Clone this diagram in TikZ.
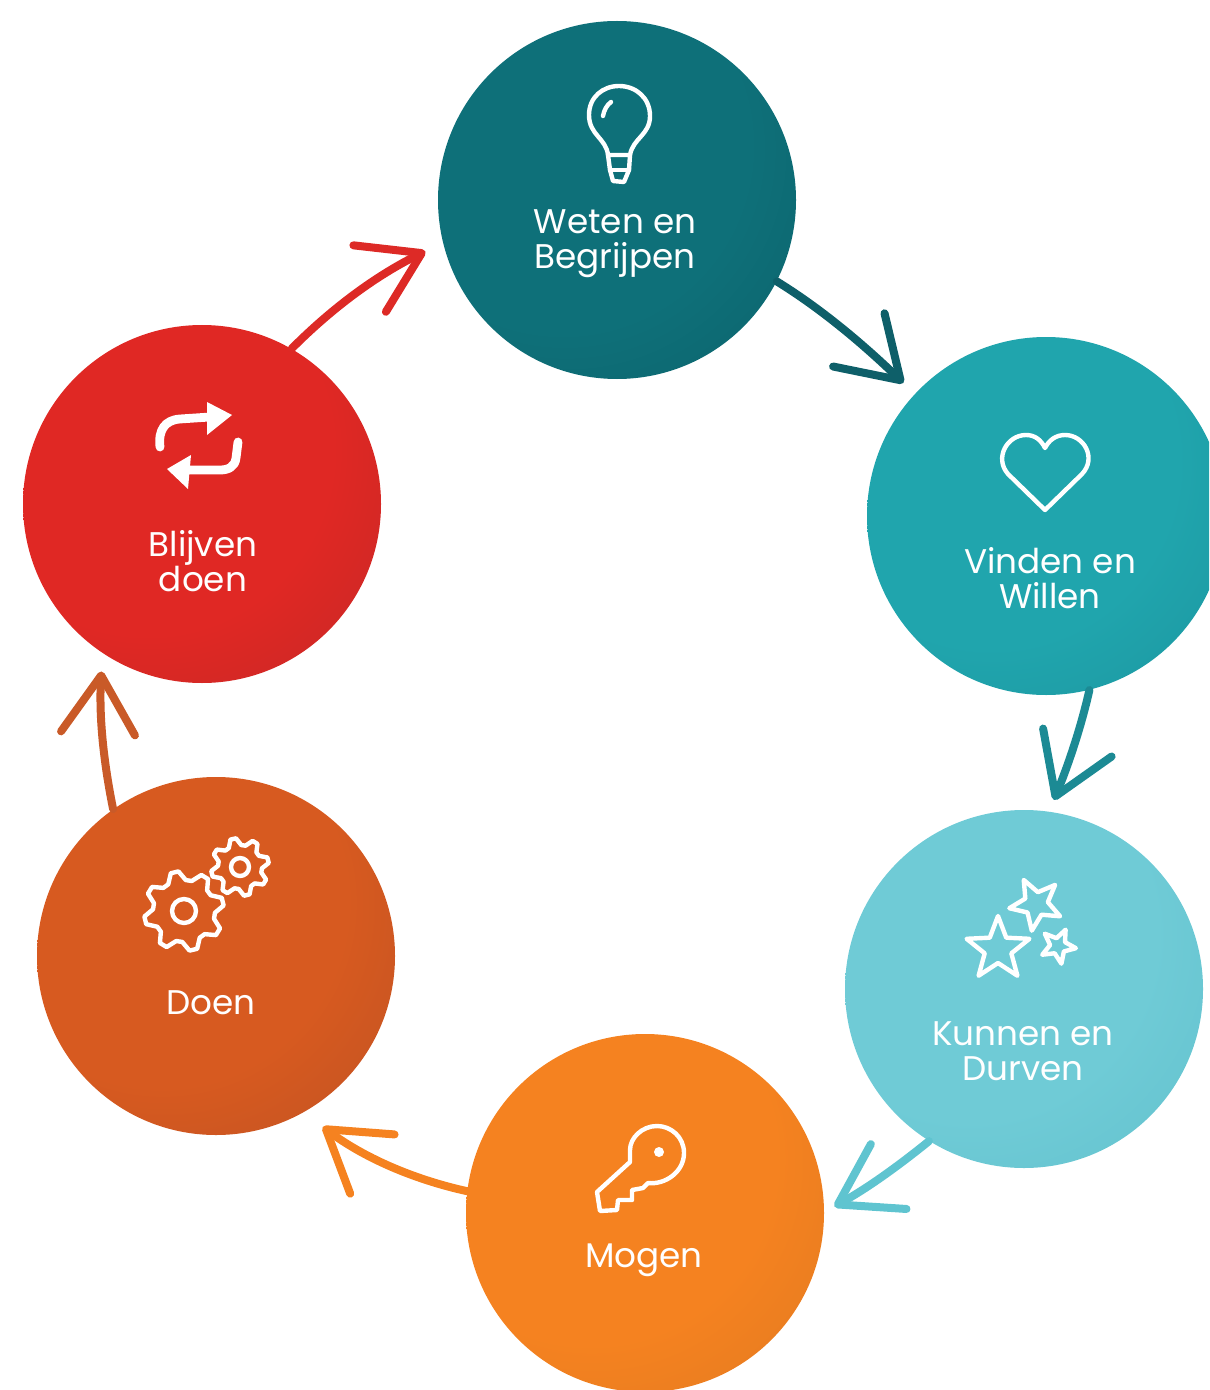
\documentclass[tikz,border=0pt]{standalone}
\usepackage{fontspec}
\setmainfont{Poppins}
\usetikzlibrary{arrows.meta,calc}
\pgfdeclareradialshading[ballA,ballB]{ballshade}{\pgfpoint{-12bp}{12bp}}{%
  color(0bp)=(ballA);color(26bp)=(ballA);color(44bp)=(ballB!50!ballA);color(62bp)=(ballB);color(72bp)=(ballB)}
\tikzset{
  ball/.style n args={2}{circle,inner sep=0pt,minimum size=179pt,
    /utils/exec={\colorlet{ballA}{#1}\colorlet{ballB}{#2}},shade,shading=ballshade},
  lab/.style={text=white,align=center,font=\fontsize{17.1}{17.5}\selectfont,inner sep=0pt},
  icon/.style={draw=white,line width=2.2pt,line join=round,line cap=round},
  flow/.style={line width=4pt,line cap=round,-{Straight Barb[length=29pt,width=37pt,line width=4pt,round,quick]},draw=#1}
}
\definecolor{cA}{HTML}{0E7079}\definecolor{dA}{HTML}{0A545D}
\definecolor{cB}{HTML}{20A5AD}\definecolor{dB}{HTML}{188592}
\definecolor{cC}{HTML}{6FCBD6}\definecolor{dC}{HTML}{54B6C4}
\definecolor{cD}{HTML}{F58220}\definecolor{dD}{HTML}{CC711F}
\definecolor{cE}{HTML}{D75A20}\definecolor{dE}{HTML}{A64924}
\definecolor{cF}{HTML}{E02824}\definecolor{dF}{HTML}{A82A27}
\definecolor{aA}{HTML}{0E5F69}\definecolor{aB}{HTML}{1C8A94}\definecolor{aC}{HTML}{5FC4D0}
\definecolor{aD}{HTML}{F58220}\definecolor{aE}{HTML}{C95A28}\definecolor{aF}{HTML}{DD2A26}
\pgfmathdeclarefunction{gearr}{3}{\pgfmathparse{mod(#1,4)<2?#2:#3}}
\pgfmathdeclarefunction{starr}{3}{\pgfmathparse{mod(#1,2)<1?#2:#3}}
\newcommand{\geardraw}[6]{%
  \draw[icon] plot[samples at={0,...,31},variable=\i]
    ({#1+gearr(\i,#3,#4)*cos(#5+\i*11.25)},{#2-gearr(\i,#3,#4)*sin(#5+\i*11.25)}) -- cycle;
  \draw[icon] (#1,#2) circle[radius=#6];}
\newcommand{\stardraw}[5]{%
  \draw[icon] plot[samples at={0,...,9},variable=\i]
    ({#1+starr(\i,#3,#4)*cos(#5+\i*36)},{#2-starr(\i,#3,#4)*sin(#5+\i*36)}) -- cycle;}
\begin{document}
\begin{tikzpicture}[x=0.5pt,y=-0.5pt]
\useasboundingbox (0,0) rectangle (1209,1390);
\clip (0,0) rectangle (1209,1390);
\node[ball={cA}{dA}] (a) at (617,200) {};
\node[ball={cB}{dB}] (b) at (1046,516) {};
\node[ball={cC}{dC}] (c) at (1024,989) {};
\node[ball={cD}{dD}] (d) at (645,1213) {};
\node[ball={cE}{dE}] (e) at (216,956) {};
\node[ball={cF}{dF}] (f) at (202,504) {};
% connectors
\draw[flow=aA] (a.-27) .. controls (820,308) and (862,343) .. ($(b)!1.087!(b.137.3)$);
\draw[flow=aB] (b.-76.4) .. controls (1081,727) and (1069,763) .. ($(c)!1.067!(c.81.6)$);
\draw[flow=aC] (c.-122.4) .. controls (897,1167) and (866,1189) .. ($(d)!1.056!(d.2)$);
\draw[flow=aD] (d.173) .. controls (412,1179) and (363,1157) .. ($(e)!1.123!(e.-58.8)$);
\draw[flow=aE] (e.125) .. controls (103,759) and (99,715) .. ($(f)!1.089!(f.-121)$);
\draw[flow=aF] (f.60) .. controls (334,306) and (379,274) .. ($(a)!1.106!(a.195.2)$);
% labels
\node[lab] (la) at (615,244) {Weten en\\Begrijpen};
\node[lab] (lb) at (1050,578) {Vinden en\\Willen};
\node[lab] (lc) at (1023,1051) {Kunnen en\\Durven};
\node[lab] (ld) at (644,1260) {Mogen};
\node[lab] (le) at (211,1003) {Doen};
\node[lab] (lf) at (203,561) {Blijven\\doen};
% bulb
\draw[icon] (608,155) .. controls (606,138) and (589,135) .. (589,115)
  .. controls (589,97) and (603,86) .. (619,86)
  .. controls (636,86) and (650,98) .. (650,116)
  .. controls (650,135) and (633,138) .. (630,155) -- cycle;
\draw[icon] (608,155) -- (610,170) -- (613,181) -- (624,182) -- (629,170) -- (630,155);
\draw[icon] (610,170) -- (629,170);
\draw[icon] (603,116) .. controls (604,110) and (607,105) .. (611,102);
% heart
\draw[icon] (1045,510) -- (1008,474) .. controls (994,458) and (1007,435) .. (1026,435)
  .. controls (1035,435) and (1041,440) .. (1045,448)
  .. controls (1049,440) and (1056,435) .. (1065,435)
  .. controls (1084,435) and (1097,458) .. (1082,474) -- cycle;
% stars
\stardraw{998}{949}{33}{14}{90}
\stardraw{1036}{904}{27}{12}{45}
\stardraw{1058}{946}{18}{8}{-7}
% key
\draw[icon] (630,1162) -- (597,1192) -- (600,1211) -- (617,1210) -- (618,1200) -- (632,1200) -- (632,1190) -- (643,1188) -- (648,1183)
  .. controls (665,1185) and (684,1172) .. (684,1153)
  .. controls (684,1137) and (671,1126) .. (657,1126)
  .. controls (642,1126) and (630,1138) .. (630,1150) -- cycle;
\fill[white] (659,1152) circle[radius=5];
% gears
\geardraw{184}{911}{40}{31}{8}{12}
\geardraw{240}{867}{29}{22}{8}{9}
% repeat
\draw[icon,line width=4.4pt] (160,447) .. controls (158,430) and (165,420) .. (180,419) -- (210,417);
\fill[white] (207,402) -- (232,415) -- (207,435) -- cycle;
\draw[icon,line width=4.4pt] (238,442) -- (236,458) .. controls (235,467) and (228,470) .. (220,470) -- (188,470);
\fill[white] (191,455) -- (167,469) -- (188,489) -- cycle;
\end{tikzpicture}
\end{document}
